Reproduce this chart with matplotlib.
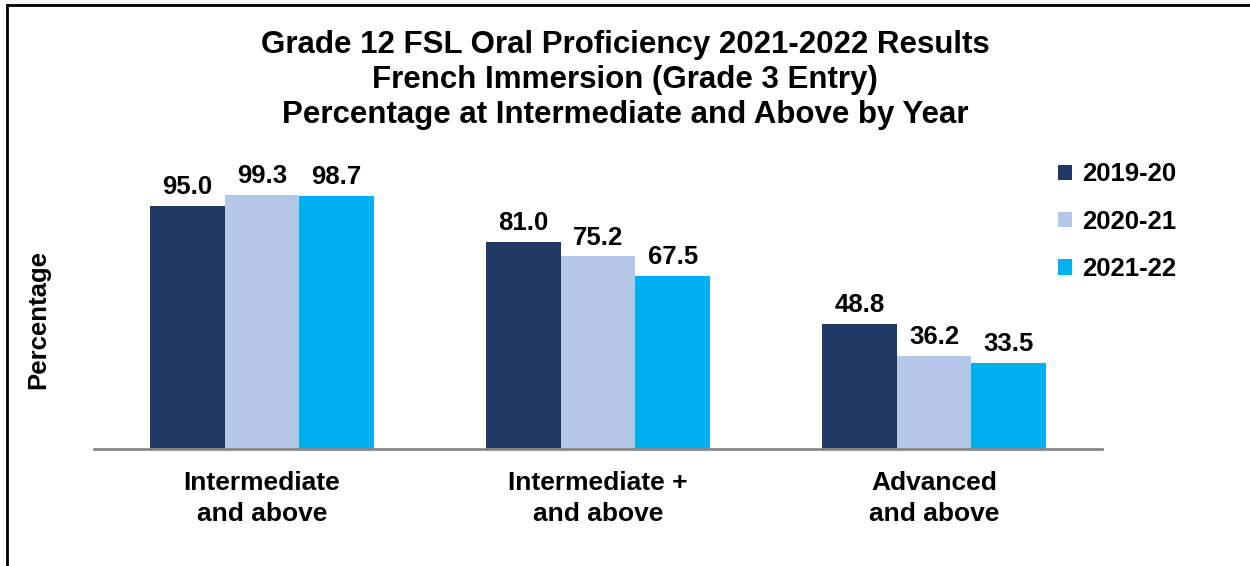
import matplotlib
matplotlib.use('Agg')
import matplotlib.pyplot as plt
import numpy as np
from matplotlib.patches import Patch
from matplotlib.lines import Line2D

plt.rcParams['font.family'] = ['Liberation Sans', 'DejaVu Sans']
plt.rcParams['font.weight'] = 'bold'

categories = ['Intermediate\nand above', 'Intermediate +\nand above', 'Advanced\nand above']
years = ['2019-20', '2020-21', '2021-22']
values_2019 = [95.0, 81.0, 48.8]
values_2020 = [99.3, 75.2, 36.2]
values_2021 = [98.7, 67.5, 33.5]
colors = ['#203864', '#B4C7E7', '#00B0F0']

fig = plt.figure(figsize=(12.5, 5.66), dpi=100)
ax = fig.add_axes([0.0752, 0.2067, 0.8064, 0.4523])

x = np.arange(len(categories))
width = 2 / 9
series = [values_2019, values_2020, values_2021]
for i, (vals, col) in enumerate(zip(series, colors)):
    pos = x + (i - 1) * width
    ax.bar(pos, vals, width, color=col, zorder=2)
    for px, v in zip(pos, vals):
        ax.annotate(f'{v:.1f}', (px, v), xytext=(0, 5), textcoords='offset points',
                    ha='center', va='bottom', fontsize=18.5, fontweight='bold',
                    annotation_clip=False)

ax.set_xlim(-0.5, 2.5)
ax.set_ylim(0, 100)
ax.set_xticks(x)
ax.set_xticklabels(categories, fontsize=19, fontweight='bold', linespacing=1.35)
ax.tick_params(axis='x', length=0, pad=16)
ax.set_yticks([])
for s in ['top', 'right', 'left']:
    ax.spines[s].set_visible(False)
ax.spines['bottom'].set_color('#898989')
ax.spines['bottom'].set_linewidth(2)

fig.text(0.0304, 0.435, 'Percentage', rotation=90, ha='center', va='center',
         fontsize=18.5, fontweight='bold')

fig.text(0.5, 0.8587, 'Grade 12 FSL Oral Proficiency 2021-2022 Results\n'
         'French Immersion (Grade 3 Entry)\n'
         'Percentage at Intermediate and Above by Year',
         ha='center', va='center', fontsize=22.5, fontweight='bold', linespacing=1.2)

handles = [Patch(facecolor=c, edgecolor='none') for c in colors]
fig.legend(handles, years, loc='upper left', bbox_to_anchor=(0.8276, 0.754),
           frameon=False, handlelength=0.55, handleheight=0.55,
           handletextpad=0.4, labelspacing=0.91, prop={'weight': 'bold', 'size': 18.5})

# partial frame (left and top edges only)
fig.add_artist(Line2D([0.0052, 0.0052], [0, 0.991], transform=fig.transFigure,
                      color='black', lw=2))
fig.add_artist(Line2D([0.0052, 1.0], [0.991, 0.991], transform=fig.transFigure,
                      color='black', lw=2))

fig.savefig('out.png', dpi=100)
